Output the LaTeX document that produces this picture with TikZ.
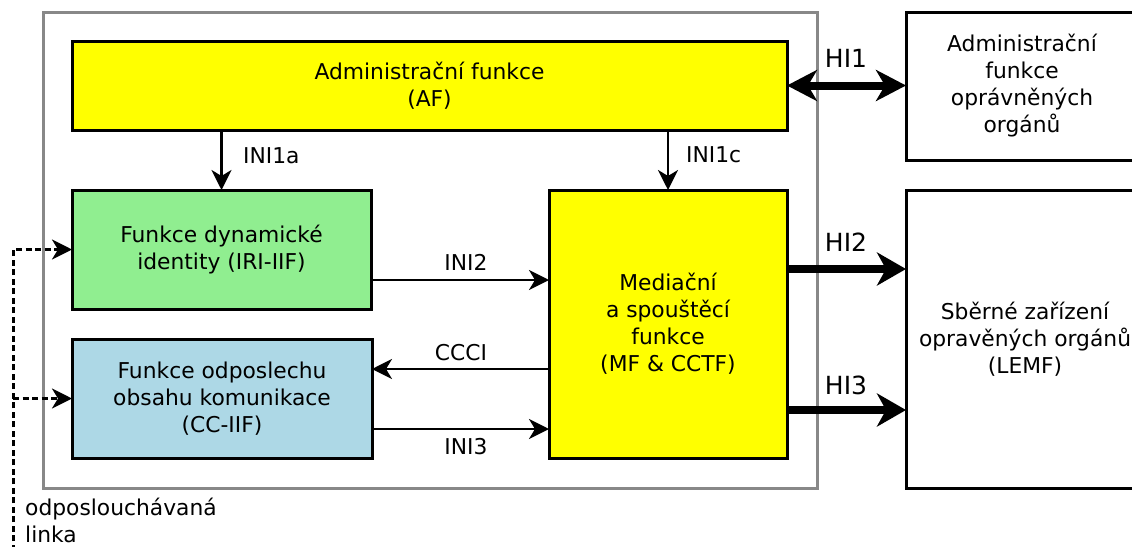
\documentclass[tikz,border=0pt]{standalone}
\usepackage{fontspec}
\setmainfont{DejaVu Sans}
\usetikzlibrary{arrows.meta}
\definecolor{yel}{HTML}{FFFF00}
\definecolor{grn}{HTML}{90EE90}
\definecolor{blu}{HTML}{ADD8E6}
\definecolor{frame}{HTML}{888888}
\begin{document}
\begin{tikzpicture}[x=1pt,y=-1pt,
  font=\fontsize{21.8}{27}\selectfont,
  box/.style={draw=black,line width=3pt,inner sep=0pt,outer sep=0pt,align=center},
  thinarrow/.style={line width=2.6pt,-{Stealth[length=20pt,width=20pt,inset=6pt]}},
  bigarrow/.style={line width=8pt,-{Stealth[length=29pt,width=33pt,inset=9pt]}},
  tapline/.style={line width=3pt,dash pattern=on 6pt off 3.5pt,-{Stealth[length=20pt,width=20pt,inset=6pt]}},
  lbl/.style={inner sep=0pt},
  hilbl/.style={inner sep=0pt,font=\fontsize{25}{30}\selectfont}]
\clip (0,0) rectangle (1132,546);
\fill[white] (0,0) rectangle (1132,546);

% system boundary
\node[draw=frame,line width=3pt,inner sep=0pt,minimum width=774pt,minimum height=476pt] (sys) at (430,250) {};

% functional blocks
\node[box,fill=yel,minimum width=715pt,minimum height=89pt] (af) at (429.5,85.5) {Administrační funkce\\(AF)};
\node[box,fill=grn,minimum width=299pt,minimum height=119pt] (gr) at (221.5,249.5) {Funkce dynamické\\identity (IRI-IIF)};
\node[box,fill=blu,minimum width=300pt,minimum height=119pt] (bl) at (222,398.5) {Funkce odposlechu\\obsahu komunikace \\(CC-IIF)};
\node[box,fill=yel,minimum width=238pt,minimum height=268pt] (mf) at (668,324) {Mediační\\a spouštěcí\\funkce\\(MF \& CCTF)};

% external blocks
\node[box,minimum width=232pt,minimum height=148pt] (ao) at (1022,86) {Administrační\\funkce\\oprávněných\\orgánů};
\node[box,minimum width=238pt,minimum height=298pt] (lemf) at (1025,339) {Sběrné zařízení\\opravěných orgánů\\(LEMF)};

% internal interfaces
\draw[thinarrow] (af.south -| gr.north) -- (gr.north);
\draw[thinarrow] (af.south -| mf.north) -- (mf.north);
\draw[thinarrow] ([yshift=-30.5pt]gr.east) -- ([yshift=-30.5pt]gr.east -| mf.west);
\draw[thinarrow] ([yshift=29.5pt]bl.east -| mf.west) -- ([yshift=29.5pt]bl.east);
\draw[thinarrow] ([yshift=-30.5pt]bl.east) -- ([yshift=-30.5pt]bl.east -| mf.west);

% handover interfaces
\draw[bigarrow,{Stealth[length=30pt,width=31pt,inset=9pt]}-{Stealth[length=30pt,width=31pt,inset=9pt]}] (af.east) -- (af.east -| ao.west);
\draw[bigarrow] ([yshift=55pt]mf.east) -- ([yshift=55pt]mf.east -| lemf.west);
\draw[bigarrow] ([yshift=-86pt]mf.east) -- ([yshift=-86pt]mf.east -| lemf.west);

% intercepted line
\coordinate (tap) at (13,560);
\draw[tapline] (tap) |- (gr.west);
\draw[tapline] (tap) |- (bl.west);

% labels
\node[lbl,anchor=west] (l1a) at (243,156) {INI1a};
\node[lbl,anchor=west] (l1c) at (686,155) {INI1c};
\node[lbl] (l2) at (466,262) {INI2};
\node[lbl] (lc) at (461,353) {CCCI};
\node[lbl] (l3) at (466,447) {INI3};
\node[hilbl] (h1) at (846,58) {HI1};
\node[hilbl] (h2) at (846,242) {HI2};
\node[hilbl] (h3) at (846,385) {HI3};
\node[lbl,anchor=west,align=left] (tapl) at (25,520) {odposlouchávaná\\linka};
\end{tikzpicture}
\end{document}
